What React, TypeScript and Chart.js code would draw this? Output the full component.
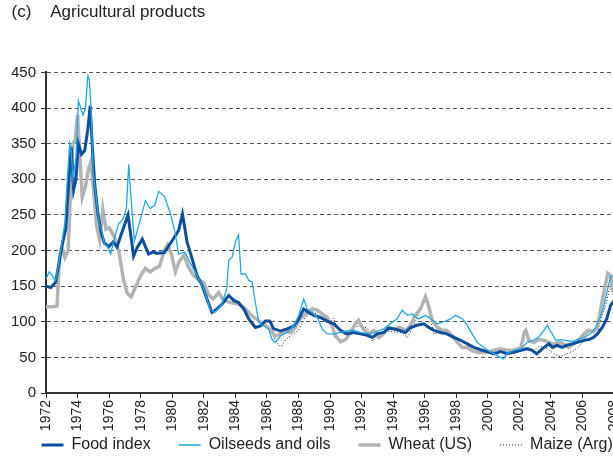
import React, { useEffect, useRef } from 'react';
import { Chart, registerables } from 'chart.js';

Chart.register(...registerables);

const TITLE = '(c)    Agricultural products';
const FONT = '"Liberation Sans", Arial, Helvetica, sans-serif';

const seriesNames = ['Food index', 'Oilseeds and oils', 'Wheat (US)', 'Maize (Arg)'];
const xTickYears = [1972, 1974, 1976, 1978, 1980, 1982, 1984, 1986, 1988, 1990, 1992, 1994, 1996, 1998, 2000, 2002, 2004, 2006, 2008];
const yTickValues = [0, 50, 100, 150, 200, 250, 300, 350, 400, 450];

// [year, index value]
const foodIndex = [
  [1972.0, 150], [1972.3, 148], [1972.6, 155], [1972.85, 185], [1973.0, 205], [1973.25, 230], [1973.45, 300], [1973.6, 345],
  [1973.75, 285], [1973.9, 300], [1974.05, 350], [1974.25, 335], [1974.45, 340], [1974.65, 370], [1974.8, 403], [1974.95, 340],
  [1975.1, 290], [1975.3, 250], [1975.5, 225], [1975.7, 210], [1976.0, 206], [1976.25, 212], [1976.5, 205], [1976.8, 225],
  [1977.2, 250], [1977.55, 192], [1977.8, 205], [1978.1, 216], [1978.5, 195], [1978.8, 198], [1979.0, 196], [1979.5, 197],
  [1980.0, 214], [1980.4, 228], [1980.65, 251], [1980.94, 212], [1981.25, 189], [1981.57, 165], [1981.89, 151], [1982.2, 132],
  [1982.52, 113], [1982.84, 118], [1983.16, 125], [1983.58, 137], [1983.9, 130], [1984.2, 127], [1984.53, 118], [1984.85, 104],
  [1985.27, 92], [1985.6, 94], [1985.9, 101], [1986.18, 101], [1986.43, 90], [1986.86, 87], [1987.28, 90], [1987.7, 94],
  [1988.02, 104], [1988.33, 118], [1988.65, 113], [1988.97, 109], [1989.4, 106], [1989.82, 101], [1990.24, 97], [1990.66, 88],
  [1991.08, 83], [1991.5, 85], [1991.93, 83], [1992.35, 81], [1992.67, 78], [1992.99, 83], [1993.4, 85], [1993.7, 91],
  [1994.04, 90], [1994.36, 88], [1994.78, 85], [1995.1, 92], [1995.5, 95], [1995.95, 97], [1996.26, 92], [1996.58, 88],
  [1997.0, 85], [1997.4, 83], [1997.85, 78], [1998.27, 74], [1998.7, 69], [1999.1, 64], [1999.5, 61], [1999.96, 58],
  [2000.4, 55], [2000.8, 58], [2001.2, 55], [2001.65, 57], [2002.1, 60], [2002.5, 62], [2002.8, 60], [2003.1, 55],
  [2003.45, 62], [2003.87, 69], [2004.1, 64], [2004.4, 67], [2004.7, 64], [2005.0, 67], [2005.35, 69], [2005.67, 71],
  [2006.1, 74], [2006.4, 75], [2006.7, 78], [2006.94, 83], [2007.25, 92], [2007.53, 104], [2007.78, 123], [2007.95, 128],
  [2008.05, 125],
];

const oilseeds = [
  [1972.0, 160], [1972.2, 170], [1972.4, 165], [1972.6, 158], [1972.8, 180], [1973.0, 210], [1973.2, 240], [1973.35, 300],
  [1973.5, 350], [1973.6, 340], [1973.7, 300], [1973.9, 330], [1974.05, 410], [1974.2, 400], [1974.35, 390], [1974.5, 400],
  [1974.65, 445], [1974.75, 440], [1974.85, 400], [1975.0, 310], [1975.2, 270], [1975.35, 240], [1975.5, 230], [1975.7, 210],
  [1975.9, 205], [1976.1, 195], [1976.3, 215], [1976.6, 237], [1976.9, 245], [1977.1, 260], [1977.24, 321], [1977.4, 270],
  [1977.6, 213], [1977.9, 237], [1978.3, 270], [1978.6, 259], [1978.9, 264], [1979.14, 283], [1979.5, 276], [1979.9, 251],
  [1980.2, 223], [1980.4, 195], [1980.8, 198], [1981.1, 184], [1981.57, 165], [1982.0, 146], [1982.4, 118], [1982.7, 113],
  [1983.16, 125], [1983.45, 146], [1983.58, 186], [1983.8, 191], [1984.0, 212], [1984.2, 222], [1984.36, 167], [1984.64, 167],
  [1984.85, 158], [1985.06, 156], [1985.27, 127], [1985.48, 99], [1985.8, 94], [1986.1, 90], [1986.33, 75], [1986.54, 71],
  [1986.86, 80], [1987.28, 85], [1987.7, 94], [1988.0, 108], [1988.33, 132], [1988.55, 118], [1988.87, 113], [1989.2, 106],
  [1989.5, 90], [1989.82, 83], [1990.24, 83], [1990.66, 85], [1991.08, 87], [1991.5, 88], [1991.93, 85], [1992.56, 83],
  [1993.0, 87], [1993.4, 90], [1993.8, 97], [1994.25, 104], [1994.57, 116], [1994.9, 109], [1995.2, 111], [1995.6, 104],
  [1996.05, 109], [1996.4, 104], [1996.8, 97], [1997.2, 100], [1997.64, 104], [1997.95, 109], [1998.4, 104], [1998.7, 95],
  [1999.0, 83], [1999.33, 71], [1999.75, 64], [2000.06, 59], [2000.4, 55], [2000.8, 50], [2001.0, 48], [2001.2, 55],
  [2001.65, 60], [2002.1, 62], [2002.5, 71], [2002.9, 74], [2003.2, 78], [2003.56, 88], [2003.77, 95], [2004.0, 86],
  [2004.3, 74], [2004.6, 75], [2004.9, 74], [2005.35, 72], [2005.67, 75], [2006.1, 78], [2006.5, 83], [2006.83, 92],
  [2007.15, 107], [2007.36, 123], [2007.57, 144], [2007.78, 163], [2007.97, 165], [2008.05, 160],
];

const wheatUS = [
  [1972.0, 121], [1972.4, 121], [1972.7, 122], [1972.85, 190], [1973.0, 205], [1973.2, 190], [1973.4, 200], [1973.55, 280],
  [1973.7, 350], [1973.85, 355], [1974.0, 390], [1974.15, 330], [1974.3, 275], [1974.5, 290], [1974.7, 315], [1974.85, 325],
  [1975.0, 290], [1975.2, 235], [1975.4, 215], [1975.6, 258], [1975.8, 230], [1976.0, 232], [1976.2, 225], [1976.45, 212],
  [1976.65, 195], [1976.9, 160], [1977.15, 140], [1977.4, 135], [1977.7, 150], [1978.0, 165], [1978.3, 175], [1978.6, 170],
  [1978.9, 175], [1979.2, 178], [1979.5, 200], [1979.7, 208], [1979.95, 195], [1980.2, 170], [1980.45, 185], [1980.75, 193],
  [1981.0, 178], [1981.35, 165], [1981.7, 158], [1982.0, 155], [1982.3, 138], [1982.6, 132], [1982.95, 141], [1983.25, 130],
  [1983.7, 127], [1984.2, 125], [1984.65, 118], [1985.05, 108], [1985.5, 101], [1985.8, 97], [1986.2, 90], [1986.55, 80],
  [1986.85, 83], [1987.2, 87], [1987.5, 85], [1987.8, 92], [1988.1, 104], [1988.55, 113], [1988.87, 118], [1989.2, 116],
  [1989.5, 111], [1989.82, 106], [1990.13, 94], [1990.35, 80], [1990.66, 72], [1991.0, 75], [1991.3, 85], [1991.6, 97],
  [1991.8, 102], [1992.1, 90], [1992.45, 83], [1992.77, 88], [1993.1, 78], [1993.4, 83], [1993.7, 92], [1994.1, 90],
  [1994.4, 92], [1994.78, 88], [1995.1, 95], [1995.4, 109], [1995.73, 118], [1996.05, 135], [1996.26, 121], [1996.47, 102],
  [1996.8, 92], [1997.1, 88], [1997.4, 88], [1997.74, 81], [1998.06, 71], [1998.38, 64], [1998.7, 64], [1999.0, 59],
  [1999.4, 57], [1999.8, 57], [2000.1, 58], [2000.4, 60], [2000.8, 62], [2001.2, 60], [2001.65, 60], [2002.1, 64],
  [2002.3, 85], [2002.4, 88], [2002.6, 74], [2002.9, 71], [2003.2, 75], [2003.56, 74], [2003.87, 71], [2004.2, 69],
  [2004.5, 71], [2004.8, 69], [2005.1, 64], [2005.46, 69], [2005.8, 76], [2006.1, 83], [2006.4, 88], [2006.7, 86],
  [2006.94, 92], [2007.15, 118], [2007.36, 142], [2007.6, 168], [2007.78, 165], [2007.9, 145], [2008.05, 137],
];

const maizeArg = [
  [1986.0, 95], [1986.3, 85], [1986.6, 70], [1986.9, 65], [1987.2, 75], [1987.6, 82], [1988.0, 88], [1988.4, 105],
  [1988.8, 115], [1989.2, 110], [1989.6, 100], [1990.0, 98], [1990.2, 105], [1990.5, 90], [1990.9, 82], [1991.1, 87],
  [1991.5, 92], [1992.0, 95], [1992.4, 90], [1992.7, 73], [1993.0, 80], [1993.5, 88], [1994.0, 86], [1994.5, 85],
  [1994.9, 78], [1995.3, 95], [1995.7, 115], [1996.05, 137], [1996.3, 110], [1996.58, 83], [1997.0, 85], [1997.4, 84],
  [1997.85, 74], [1998.2, 69], [1998.6, 64], [1999.0, 58], [1999.5, 56], [2000.0, 57], [2000.5, 58], [2001.0, 58],
  [2001.5, 59], [2002.0, 62], [2002.5, 64], [2002.9, 60], [2003.3, 66], [2003.7, 63], [2004.2, 55], [2004.6, 51],
  [2005.0, 55], [2005.5, 60], [2005.9, 68], [2006.3, 84], [2006.7, 88], [2007.0, 88], [2007.2, 107], [2007.45, 122],
  [2007.7, 145], [2008.05, 150],
];

const toPoints = (pairs: number[][]) => pairs.map(([x, y]) => ({ x, y }));

// layout constants (pixels)
const PAD_LEFT = 11.5;
const AXIS_LEFT = 46;
const PAD_RIGHT = 10;
const CANVAS_W = 700;
const X_AXIS_H = 42;
const CANVAS_H = 489;
const PX_PER_YEAR = 15.78;
const X_MAX = 1972 + (CANVAS_W - PAD_RIGHT - AXIS_LEFT) / PX_PER_YEAR;
const LEGEND_PAD = 28;
const LEGEND_START_X = 41.5;
const LEGEND_TOP = 409;

const legendPlacer = {
  id: 'legendPlacer',
  afterLayout(chart: any) {
    const lg = chart.legend;
    if (!lg || !lg.lineWidths) return;
    const x0 = (lg.left + LEGEND_PAD + lg.right - lg.lineWidths[0]) / 2;
    const dx = LEGEND_START_X - x0;
    const dy = LEGEND_TOP - lg.top;
    lg.left += dx; lg.right += dx;
    lg.top += dy; lg.bottom += dy;
  },
};

export default function App() {
  const ref = useRef<HTMLCanvasElement | null>(null);

  useEffect(() => {
    const canvas = ref.current;
    if (!canvas) return;
    const chart = new Chart(canvas, {
      type: 'line',
      data: {
        datasets: [
          {
            label: seriesNames[0], data: toPoints(foodIndex), borderColor: '#0e4e9f', backgroundColor: '#0e4e9f',
            borderWidth: 3, pointRadius: 0, tension: 0, order: 1,
          },
          {
            label: seriesNames[1], data: toPoints(oilseeds), borderColor: '#1ba9e6', backgroundColor: '#1ba9e6',
            borderWidth: 1.3, pointRadius: 0, tension: 0, order: 0,
          },
          {
            label: seriesNames[2], data: toPoints(wheatUS), borderColor: '#b3b3b3', backgroundColor: '#b3b3b3',
            borderWidth: 3.5, pointRadius: 0, tension: 0, order: 2,
          },
          {
            label: seriesNames[3], data: toPoints(maizeArg), borderColor: '#111111', backgroundColor: '#111111',
            borderWidth: 1, borderDash: [1, 2], pointRadius: 0, tension: 0, order: 3,
          },
        ],
      },
      plugins: [legendPlacer],
      options: {
        animation: false,
        responsive: false,
        layout: { padding: { left: PAD_LEFT, right: PAD_RIGHT, top: 2, bottom: 0 } },
        plugins: {
          title: {
            display: true, text: TITLE, align: 'start', color: '#222',
            font: { family: FONT, size: 17, weight: 'normal' }, padding: { top: 0, bottom: 50 },
          },
          legend: {
            position: 'bottom',
            labels: {
              usePointStyle: true, pointStyle: 'line', pointStyleWidth: 22, padding: LEGEND_PAD, color: '#222',
              font: { family: FONT, size: 16 },
              generateLabels: (c: any) => c.data.datasets.map((ds: any, i: number) => ({
                text: ds.label, strokeStyle: ds.borderColor, fillStyle: ds.borderColor, lineWidth: ds.borderWidth,
                lineDash: ds.borderDash || [], pointStyle: 'line', hidden: false, datasetIndex: i, fontColor: '#222',
              })),
            },
          },
          tooltip: { enabled: false },
        },
        scales: {
          x: {
            type: 'linear', min: 1972, max: X_MAX,
            afterBuildTicks: (s: any) => { s.ticks = xTickYears.map((v) => ({ value: v })); },
            afterFit: (s: any) => { s.height = X_AXIS_H; },
            ticks: {
              autoSkip: false, minRotation: 90, maxRotation: 90, padding: 2, color: '#222',
              font: { family: FONT, size: 14 },
              callback: (v: any) => String(v),
            },
            grid: { drawOnChartArea: false, drawTicks: true, tickLength: 5, color: '#333', lineWidth: 1 },
            border: { display: true, color: '#333', width: 2 },
          },
          y: {
            min: 0, max: 450,
            afterBuildTicks: (s: any) => { s.ticks = yTickValues.map((v) => ({ value: v })); },
            afterFit: (s: any) => { s.width = AXIS_LEFT - PAD_LEFT; },
            ticks: { padding: 5, color: '#222', font: { family: FONT, size: 15 }, callback: (v: any) => String(v) },
            grid: {
              color: '#555', lineWidth: 1, drawTicks: true, tickLength: 5, tickColor: '#333', tickBorderDash: [], tickWidth: 1,
            },
            border: { display: true, color: '#333', width: 2, dash: [4, 3] },
          },
        },
      } as any,
    });
    return () => chart.destroy();
  }, []);

  return (
    <div style={{ position: 'absolute', left: 0, top: 0, width: 613, height: 467, overflow: 'hidden', background: '#fff' }}>
      <canvas ref={ref} width={CANVAS_W} height={CANVAS_H} style={{ display: 'block', width: CANVAS_W, height: CANVAS_H }} />
    </div>
  );
}
